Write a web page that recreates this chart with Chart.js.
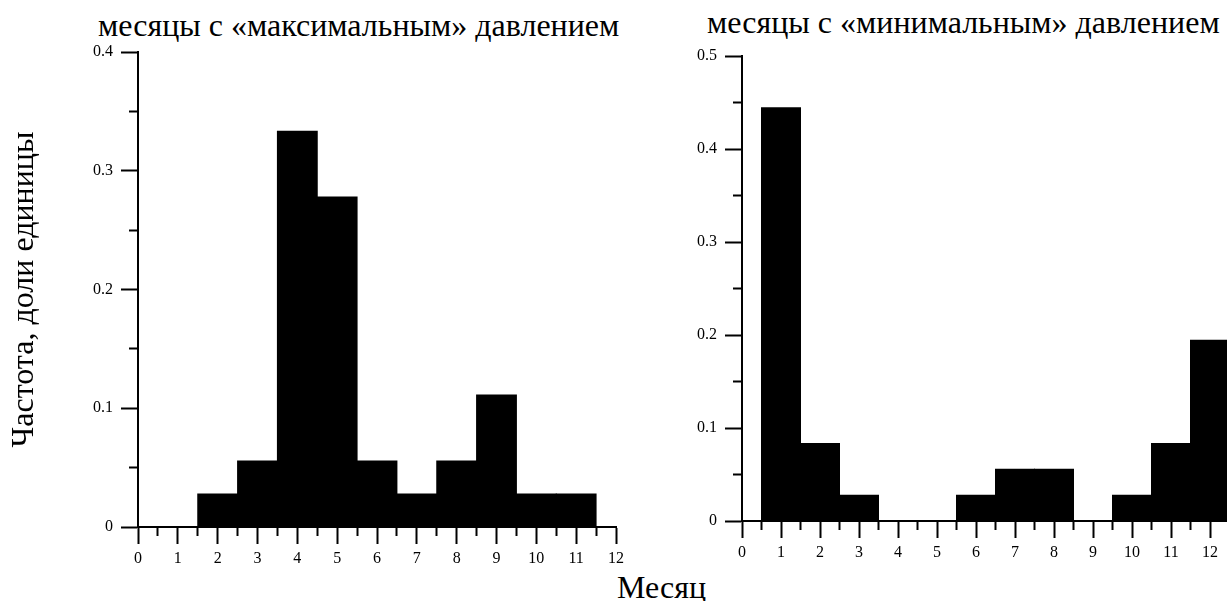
<!DOCTYPE html>
<html>
<head>
<meta charset="utf-8">
<script src="https://cdn.jsdelivr.net/npm/chart.js@4"></script>
<style>
  body { margin: 0; background: #fff; overflow: hidden; }
  #wrap { position: relative; width: 1227px; height: 601px; overflow: hidden; background: #fff; }
  canvas { position: absolute; top: 0; }
  .lbl { position: absolute; white-space: nowrap; font-family: 'Liberation Serif', 'Times New Roman', serif;
         font-size: 32px; line-height: 32px; color: #000; }
</style>
</head>
<body>
<div id="wrap">
  <div class="lbl" id="t1" style="left:98px; top:9px;">месяцы с «максимальным» давлением</div>
  <div class="lbl" id="t2" style="left:707px; top:6px;">месяцы с «минимальным» давлением</div>
  <div class="lbl" id="xl" style="left:617px; top:571px;">Месяц</div>
  <canvas id="chart-max" width="640" height="601" style="left:0"></canvas>
  <canvas id="chart-min" width="620" height="601" style="left:640px"></canvas>
</div>
<script>
// ===== DATA =====
const monthsMax = [0, 1, 2, 3, 4, 5, 6, 7, 8, 9, 10, 11];
const freqMax   = [0, 0, 0.0278, 0.0556, 0.3333, 0.2778, 0.0556, 0.0278, 0.0556, 0.1111, 0.0278, 0.0278];

const monthsMin = [1, 2, 3, 4, 5, 6, 7, 8, 9, 10, 11, 12];
const freqMin   = [0.4444, 0.0833, 0.0278, 0, 0, 0.0278, 0.0556, 0.0556, 0, 0.0278, 0.0833, 0.1944];

const yTitle = 'Частота, доли единицы';

const serif = "'Liberation Serif', 'Times New Roman', serif";

// major ticks every whole month / every 0.1, minor in between
const isWhole = v => Math.abs(v - Math.round(v)) < 1e-6;
const isTenth = v => Math.abs(v * 10 - Math.round(v * 10)) < 1e-6;

function makeChart(id, months, freq, opt) {
    return new Chart(document.getElementById(id), {
        type: 'bar',
        data: {
            datasets: [{
                data: months.map((m, i) => ({ x: m, y: freq[i] })),
                backgroundColor: '#000', borderWidth: 0, inflateAmount: 0.5,
                barThickness: 'flex', categoryPercentage: 1, barPercentage: 1
            }]
        },
        options: {
            responsive: false, animation: false,
            layout: { padding: { top: opt.top, right: opt.right, left: 0, bottom: 0 } },
            plugins: { legend: { display: false }, tooltip: { enabled: false } },
            scales: {
                x: {
                    type: 'linear', min: 0, max: opt.xMax, offset: false,
                    border: { color: '#000', width: 2 },
                    grid: {
                        offset: false, drawOnChartArea: false, tickLength: 17, tickWidth: 2, tickColor: '#000',
                        tickBorderDash: c => isWhole(c.tick.value) ? [] : [8, 100]
                    },
                    ticks: {
                        stepSize: 0.5, autoSkip: false, maxRotation: 0, padding: 5, color: '#000',
                        font: { family: serif, size: 16 },
                        callback: v => isWhole(v) ? String(Math.round(v)) : ''
                    },
                    afterFit: s => { s.height = opt.xH; }
                },
                y: {
                    min: 0, max: opt.yMax,
                    border: { color: '#000', width: 2 },
                    grid: {
                        drawOnChartArea: false, tickLength: 17, tickWidth: 2, tickColor: '#000',
                        tickBorderDash: c => isTenth(c.tick.value) ? [] : [0, 8, 9, 100]
                    },
                    ticks: {
                        stepSize: 0.05, autoSkip: false, padding: 8, color: '#000',
                        font: { family: serif, size: 16 },
                        callback: v => !isTenth(v) ? '' : (v < 1e-6 ? '0' : v.toFixed(1))
                    },
                    title: {
                        display: !!opt.title, text: opt.title || '', color: '#000',
                        font: { family: serif, size: 32 }, padding: { top: 5, bottom: 0 }
                    },
                    afterFit: s => { s.width = opt.yW; }
                }
            }
        }
    });
}

makeChart('chart-max', monthsMax, freqMax, { top: 52, right: 24, xH: 74, yW: 138, xMax: 12, yMax: 0.4, title: yTitle });
makeChart('chart-min', monthsMin, freqMin, { top: 56, right: 30.5, xH: 80, yW: 102, xMax: 12.5, yMax: 0.5 });
</script>
</body>
</html>
